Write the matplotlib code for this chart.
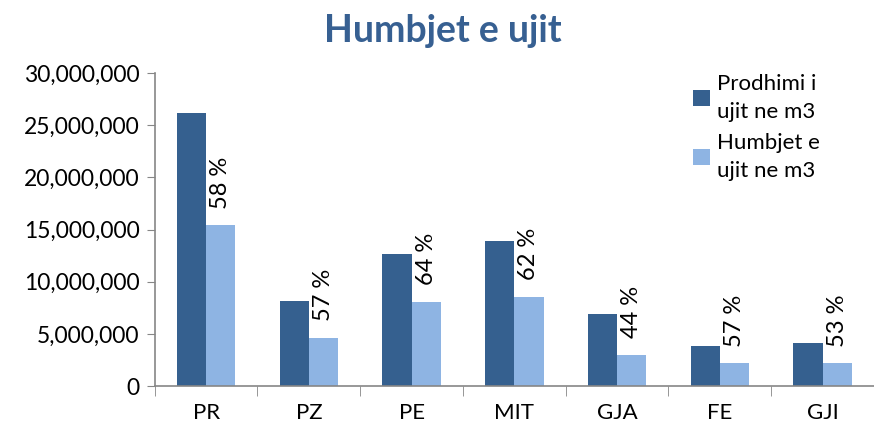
import matplotlib.pyplot as plt
import numpy as np
from matplotlib.ticker import FuncFormatter, FixedLocator

plt.rcParams['font.family'] = ['Lato', 'DejaVu Sans']

# Te dhenat
kategorite = ['PR', 'PZ', 'PE', 'MIT', 'GJA', 'FE', 'GJI']
prodhimi = [26200000, 8150000, 12650000, 13900000, 6900000, 3850000, 4120000]
humbjet = [15400000, 4600000, 8050000, 8550000, 2980000, 2200000, 2200000]
perqindjet = ['58 %', '57 %', '64 %', '62 %', '44 %', '57 %', '53 %']

ngjyra_err = '#35608F'
ngjyra_cel = '#8EB4E3'
gri = '#868686'

fig = plt.figure(figsize=(8.74, 4.30), dpi=100)
ax = fig.add_axes([0.177, 0.102, 0.823, 0.728])

x = np.arange(len(kategorite))
w = 0.285
b1 = ax.bar(x - w / 2, prodhimi, w, color=ngjyra_err, label='Prodhimi i\nujit ne m3')
b2 = ax.bar(x + w / 2, humbjet, w, color=ngjyra_cel, label='Humbjet e\nujit ne m3')

for xi, h, t in zip(x, humbjet, perqindjet):
    ax.annotate(t, (xi + w / 2, h), xytext=(0, 12), textcoords='offset points',
                rotation=90, ha='center', va='bottom', fontsize=17)

ax.set_xlim(-0.5, len(kategorite) - 0.5)
ax.set_ylim(0, 30000000)
ax.set_yticks(np.arange(0, 30000001, 5000000))
ax.yaxis.set_major_formatter(FuncFormatter(lambda v, p: f'{int(v):,}'))
ax.set_xticks(x)
ax.set_xticklabels(kategorite)
ax.xaxis.set_minor_locator(FixedLocator(np.arange(-0.5, len(kategorite), 1.0)))
ax.tick_params(axis='x', which='major', length=0, labelsize=16, pad=12)
ax.tick_params(axis='x', which='minor', length=7, color=gri)
ax.tick_params(axis='y', length=6, color=gri, labelsize=16.5, pad=5)

for s in ['top', 'right']:
    ax.spines[s].set_visible(False)
for s in ['left', 'bottom']:
    ax.spines[s].set_color(gri)
    ax.spines[s].set_linewidth(1.2)

fig.text(0.507, 0.928, 'Humbjet e ujit', ha='center', va='center',
         fontsize=27, fontweight='bold', color='#376092')

leg = fig.legend(loc='upper left', bbox_to_anchor=(0.77, 0.875), frameon=False,
                 fontsize=16, handlelength=0.75, handleheight=0.75, handletextpad=0.35,
                 labelspacing=0.5)
for t in leg.get_texts():
    t.set_linespacing(1.5)

plt.savefig('out.png', dpi=100)
